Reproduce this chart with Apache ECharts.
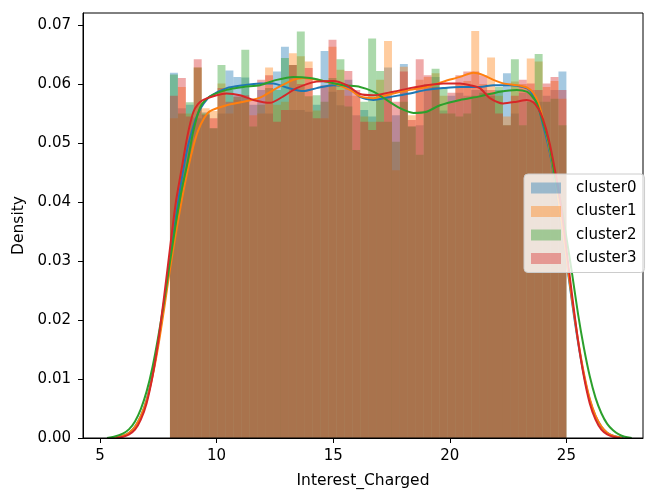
<!DOCTYPE html>
<html><head><meta charset="utf-8">
<script src="https://cdn.jsdelivr.net/npm/echarts@6/dist/echarts.min.js"></script>
<style>html,body{margin:0;padding:0;background:#fff}#c{width:646px;height:490px}</style>
</head><body><div id="c"></div>
<script>
const clusterNames = ['cluster0', 'cluster1', 'cluster2', 'cluster3'];
const palette = ['#1f77b4', '#ff7f0e', '#2ca02c', '#d62728'];
const binLow = 8, binHigh = 25, binCount = 50;

const hist0 = [0.0619,0.0559,0.0565,0.0542,0.0552,0.0525,0.0550,0.0623,0.0612,0.0611,
  0.0565,0.0590,0.0550,0.0621,0.0663,0.0556,0.0556,0.0553,0.0565,0.0656,
  0.0587,0.0564,0.0607,0.0547,0.0556,0.0545,0.0580,0.0628,0.0547,0.0634,
  0.0528,0.0530,0.0600,0.0612,0.0555,0.0580,0.0585,0.0580,0.0590,0.0590,
  0.0585,0.0590,0.0618,0.0550,0.0585,0.0590,0.0570,0.0580,0.0590,0.0621];
const hist1 = [0.0542,0.0595,0.0550,0.0628,0.0559,0.0554,0.0601,0.0550,0.0573,0.0570,
  0.0547,0.0550,0.0628,0.0565,0.0570,0.0652,0.0647,0.0638,0.0555,0.0542,
  0.0663,0.0624,0.0580,0.0580,0.0545,0.0536,0.0607,0.0673,0.0454,0.0629,
  0.0547,0.0607,0.0612,0.0618,0.0580,0.0570,0.0600,0.0605,0.0690,0.0600,
  0.0645,0.0580,0.0545,0.0604,0.0600,0.0643,0.0638,0.0595,0.0605,0.0575];
const hist2 = [0.0616,0.0550,0.0569,0.0628,0.0550,0.0525,0.0632,0.0590,0.0578,0.0658,
  0.0528,0.0565,0.0593,0.0590,0.0644,0.0632,0.0689,0.0579,0.0581,0.0570,
  0.0610,0.0642,0.0562,0.0488,0.0570,0.0677,0.0622,0.0536,0.0502,0.0570,
  0.0528,0.0480,0.0555,0.0626,0.0593,0.0550,0.0545,0.0550,0.0580,0.0585,
  0.0580,0.0595,0.0530,0.0642,0.0530,0.0570,0.0651,0.0570,0.0575,0.0530];
const hist3 = [0.0580,0.0610,0.0545,0.0642,0.0548,0.0542,0.0593,0.0570,0.0580,0.0581,
  0.0575,0.0607,0.0615,0.0536,0.0556,0.0632,0.0600,0.0627,0.0542,0.0598,
  0.0675,0.0590,0.0622,0.0590,0.0536,0.0522,0.0536,0.0580,0.0570,0.0621,
  0.0539,0.0642,0.0615,0.0595,0.0550,0.0585,0.0615,0.0621,0.0621,0.0615,
  0.0590,0.0550,0.0530,0.0580,0.0607,0.0601,0.0590,0.0601,0.0612,0.0590];

const kde0 = [[5.55,0],[6.0,0.0004],[6.25,0.0009],[6.5,0.0019],[6.75,0.0037],[7.0,0.0065],[7.25,0.0107],[7.5,0.0162],
  [7.75,0.0228],[8.0,0.0301],[8.25,0.0373],[8.5,0.0438],[8.75,0.0491],[9.0,0.0528],[9.2,0.0550],[9.45,0.0567],[9.72,0.0579],
  [10.43,0.0593],[11.15,0.0598],[11.86,0.0601],[12.43,0.0601],[13.0,0.0594],[13.72,0.0588],
  [14.29,0.0593],[15.0,0.0598],[15.72,0.0593],[16.15,0.0578],[16.72,0.0573],[17.58,0.0579],[18.29,0.0584],[19.01,0.0590],
  [19.72,0.0593],[20.44,0.0595],[21.29,0.0595],[21.87,0.0598],[22.58,0.0598],[23.15,0.0595],[23.44,0.0589],[23.8,0.0560],
  [24.0,0.0530],[24.25,0.0491],[24.5,0.0438],[24.75,0.0373],[25.0,0.0301],[25.25,0.0228],[25.5,0.0162],[25.75,0.0107],
  [26.0,0.0065],[26.25,0.0037],[26.5,0.0019],[26.75,0.0009],[27.0,0.0004],[27.45,0]];
const kde1 = [[5.6,0],[6.0,0.0004],[6.25,0.0009],[6.5,0.0019],[6.75,0.0037],[7.0,0.0064],[7.25,0.0104],[7.5,0.0156],
  [7.75,0.0219],[8.0,0.0286],[8.25,0.0346],[8.5,0.0402],[8.75,0.0452],[9.0,0.0494],[9.2,0.0520],[9.45,0.0541],[9.72,0.0554],
  [10.43,0.0564],[11.15,0.0570],[11.86,0.0577],[12.58,0.0593],[13.29,0.0607],[13.72,0.0610],
  [14.29,0.0607],[15.0,0.0601],[15.72,0.0590],[16.15,0.0579],[16.72,0.0576],[17.58,0.0584],[18.29,0.0590],[19.01,0.0595],
  [19.72,0.0604],[20.44,0.0612],[21.01,0.0619],[21.44,0.0615],[21.87,0.0607],[22.29,0.0601],[22.87,0.0598],[23.3,0.0594],
  [23.58,0.0585],[23.8,0.0568],[24.0,0.0540],[24.25,0.0497],[24.5,0.0442],[24.75,0.0377],[25.0,0.0305],[25.25,0.0233],
  [25.5,0.0166],[25.75,0.0110],[26.0,0.0067],[26.25,0.0038],[26.5,0.0020],[26.75,0.0009],[27.0,0.0004],[27.4,0]];
const kde2 = [[5.3,0],[5.6,0.0002],[6.0,0.0008],[6.25,0.0015],[6.5,0.0028],[6.75,0.0049],[7.0,0.0079],[7.25,0.0120],
  [7.5,0.0172],[7.75,0.0232],[8.0,0.0298],[8.25,0.0363],[8.5,0.0420],[8.75,0.0466],[9.0,0.0520],[9.29,0.0560],[9.55,0.0574],[9.86,0.0582],
  [10.43,0.0590],[11.15,0.0595],[11.86,0.0598],[12.58,0.0607],[13.29,0.0612],[14.0,0.0610],
  [14.72,0.0604],[15.43,0.0598],[16.15,0.0595],[16.72,0.0587],[17.29,0.0573],[17.86,0.0559],[18.44,0.0551],[19.01,0.0553],
  [19.58,0.0564],[20.44,0.0573],[21.29,0.0579],[22.15,0.0587],[22.87,0.0590],[23.3,0.0587],[23.55,0.0578],[23.73,0.0568],
  [24.0,0.0535],[24.25,0.0500],[24.5,0.0445],[24.75,0.0400],[25.0,0.0340],[25.25,0.0277],[25.5,0.0210],[25.75,0.0153],
  [26.0,0.0105],[26.25,0.0068],[26.5,0.0042],[26.75,0.0024],[27.0,0.0013],[27.25,0.0006],[27.5,0.0002],[27.8,0]];
const kde3 = [[5.7,0],[6.0,0.0002],[6.25,0.0006],[6.5,0.0014],[6.75,0.0031],[7.0,0.0059],[7.25,0.0104],[7.5,0.0165],
  [7.75,0.0240],[8.0,0.0321],[8.25,0.0399],[8.5,0.0456],[8.75,0.0512],[9.0,0.0552],[9.2,0.0566],[9.43,0.0573],
  [10.0,0.0581],[10.43,0.0584],[11.0,0.0581],[11.58,0.0573],[12.29,0.0568],[12.86,0.0579],
  [13.43,0.0593],[14.29,0.0604],[15.0,0.0605],[15.58,0.0598],[16.15,0.0583],[16.72,0.0581],[17.58,0.0587],[18.29,0.0593],
  [19.01,0.0598],[19.72,0.0601],[20.44,0.0601],[20.87,0.0598],[21.29,0.0593],[21.72,0.0576],[22.29,0.0567],[22.87,0.0570],
  [23.3,0.0573],[23.58,0.0569],[23.8,0.0558],[24.0,0.0540],[24.25,0.0505],[24.5,0.0456],[24.75,0.0399],[25.0,0.0321],
  [25.25,0.0240],[25.5,0.0165],[25.75,0.0104],[26.0,0.0059],[26.25,0.0031],[26.5,0.0014],[26.75,0.0006],[27.0,0.0002],[27.3,0]];

const xTicks = [5, 10, 15, 20, 25];
const yTicks = [0, 0.01, 0.02, 0.03, 0.04, 0.05, 0.06, 0.07];

const hists = [hist0, hist1, hist2, hist3];
const kdes = [kde0, kde1, kde2, kde3];

function alphaColor(hex, a) {
  const r = parseInt(hex.slice(1, 3), 16), g = parseInt(hex.slice(3, 5), 16), b = parseInt(hex.slice(5, 7), 16);
  return 'rgba(' + r + ',' + g + ',' + b + ',' + a + ')';
}
const binW = (binHigh - binLow) / binCount;
function histData(vals) {
  return vals.map((v, i) => [binLow + i * binW, binLow + (i + 1) * binW, v]);
}

const FONT = 'DejaVu Sans';
const series = [];
hists.forEach((h, k) => {
  const fill = alphaColor(palette[k], 0.4);
  series.push({
    name: clusterNames[k], type: 'custom', z: 2 + k,
    itemStyle: { color: fill },
    encode: { x: [0, 1], y: 2 },
    data: histData(h),
    renderItem: function (params, api) {
      const p0 = api.coord([api.value(0), api.value(2)]);
      const p1 = api.coord([api.value(1), 0]);
      return { type: 'rect', shape: { x: p0[0], y: p0[1], width: p1[0] - p0[0], height: p1[1] - p0[1] },
        style: { fill: fill } };
    }
  });
});
kdes.forEach((d, k) => {
  series.push({
    name: 'kde' + k, type: 'line', z: 10 + k, data: d, showSymbol: false, symbol: 'none',
    smooth: 0.25,
    lineStyle: { color: palette[k], width: 2 }, itemStyle: { color: palette[k] }
  });
});

const chart = echarts.init(document.getElementById('c'), null, { renderer: 'canvas' });
chart.setOption({
  animation: false,
  backgroundColor: '#ffffff',
  grid: { left: 83, right: 3, top: 13, bottom: 52, containLabel: false, outerBoundsMode: 'none',
    show: true, borderColor: '#000', borderWidth: 1, backgroundColor: 'transparent', z: 30 },
  xAxis: {
    type: 'value', min: 4.271, max: 28.285, z: 30,
    name: 'Interest_Charged', nameLocation: 'middle', nameGap: 35,
    nameTextStyle: { fontFamily: FONT, fontSize: 15.5, color: '#000' },
    axisLine: { show: true, onZero: false, lineStyle: { color: '#000', width: 1 } },
    axisTick: { show: true, length: 5, lineStyle: { color: '#000' }, customValues: xTicks },
    axisLabel: { fontFamily: FONT, fontSize: 15, color: '#000', margin: 11, customValues: xTicks, formatter: v => String(v) },
    splitLine: { show: false }
  },
  yAxis: {
    type: 'value', min: 0, max: 0.07203, z: 30,
    name: 'Density', nameLocation: 'middle', nameGap: 54, nameRotate: 90,
    nameTextStyle: { fontFamily: FONT, fontSize: 15.5, color: '#000' },
    axisLine: { show: true, onZero: false, lineStyle: { color: '#000', width: 1 } },
    axisTick: { show: true, length: 5, lineStyle: { color: '#000' }, customValues: yTicks },
    axisLabel: { fontFamily: FONT, fontSize: 15, color: '#000', margin: 12, customValues: yTicks, formatter: v => v.toFixed(2) },
    splitLine: { show: false }
  },
  legend: {
    z: 50,
    data: clusterNames.map((n, k) => ({ name: n, icon: 'rect', itemStyle: { color: alphaColor(palette[k], 0.4) } })),
    orient: 'vertical', left: 524, top: 174,
    itemWidth: 30, itemHeight: 11, itemGap: 7.5,
    padding: [6, 8, 6, 7],
    backgroundColor: 'rgba(255,255,255,0.8)', borderColor: '#cccccc', borderWidth: 1, borderRadius: 4,
    selectedMode: false,
    textStyle: { fontFamily: FONT, fontSize: 15, color: '#000', lineHeight: 16, padding: [0, 0, 0, 10] }
  },
  series: series
});
</script></body></html>
